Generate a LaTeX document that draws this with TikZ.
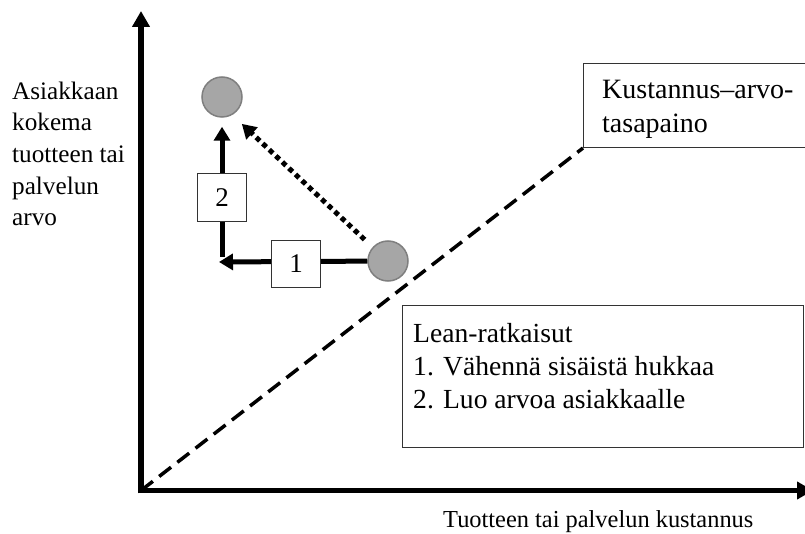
\documentclass[tikz,border=0pt]{standalone}
\usepackage{fontspec}
\setmainfont{Liberation Serif}
\usetikzlibrary{arrows.meta}
\definecolor{dotfill}{HTML}{A6A6A6}
\definecolor{dotline}{HTML}{7F7F7F}
\begin{document}
\begin{tikzpicture}[x=1pt,y=-1pt,
  txt/.style={inner sep=0pt,anchor=base west},
  axistxt/.style={txt,font=\fontsize{25.2}{30}\selectfont},
  boxtxt/.style={txt,font=\fontsize{27.6}{33}\selectfont},
  axis/.style={line width=5.5pt,-{Triangle[length=16pt,width=17pt]}},
  flow/.style={line width=5pt,-{Triangle[length=14pt,width=16pt]}},
  dotflow/.style={line width=5pt,dash pattern=on 5pt off 4pt,-{Triangle[length=14pt,width=16pt]}},
  balance/.style={line width=3.5pt,dash pattern=on 15pt off 8pt},
  marker/.style={circle,draw=dotline,line width=1.5pt,fill=dotfill,minimum size=40pt,inner sep=0pt},
  numbox/.style={draw=black!80,line width=1pt,fill=white,minimum width=49pt,minimum height=47pt,inner sep=0pt,font=\fontsize{27}{27}\selectfont},
  panel/.style={draw=black!80,line width=1pt,fill=white,anchor=north west,inner sep=0pt}
]
\useasboundingbox (0,0) rectangle (805,534);

% axes
\coordinate (o) at (141,490.5);
\coordinate (ytop) at (141,11);
\coordinate (xend) at (813,490.5);
\draw[axis] ([yshift=-2.75pt]o) -- (ytop);
\draw[axis] ([xshift=-2.75pt]o) -- (xend);

% cost-value balance label and line
\node[panel,minimum width=230pt,minimum height=84pt] (kb) at (583,63) {};
\node[boxtxt,font=\fontsize{28}{33}\selectfont] (kb1) at (602,99) {Kustannus–arvo-};
\node[boxtxt,font=\fontsize{28}{33}\selectfont] (kb2) at (602,133) {tasapaino};
\draw[balance] (o) -- (kb.south west);

% lean solutions box
\node[panel,minimum width=401pt,minimum height=142pt] (lb) at (402,305) {};
\node[boxtxt] (lb1) at (413,342) {Lean-ratkaisut};
\node[boxtxt] (lb2) at (413,375) {1. Vähennä sisäistä hukkaa};
\node[boxtxt] (lb3) at (413,408) {2. Luo arvoa asiakkaalle};

% axis labels
\node[axistxt] (y1) at (12,100) {Asiakkaan};
\node[axistxt] (y2) at (12,131) {kokema};
\node[axistxt] (y3) at (12,163) {tuotteen tai};
\node[axistxt] (y4) at (12,195) {palvelun};
\node[axistxt] (y5) at (12,226) {arvo};
\node[axistxt,font=\fontsize{24.4}{30}\selectfont] (xlab) at (443,527) {Tuotteen tai palvelun kustannus};

% positions
\node[marker] (p0) at (388,261) {};
\node[marker] (p1) at (222,97) {};

% step 1: cut waste, step 2: add value
\coordinate (turn) at (219,262);
\coordinate (rise) at (222,257);
\draw[flow] (p0) -- (turn);
\draw[flow,shorten >=9pt] (rise) -- (p1.south);
\node[numbox] (s1) at (296,264) {1};
\node[numbox,minimum height=48pt] (s2) at (222,198) {2};

% direct move
\draw[dotflow,shorten <=11pt,shorten >=13pt] (p0.138) -- (p1.300);
\end{tikzpicture}
\end{document}
